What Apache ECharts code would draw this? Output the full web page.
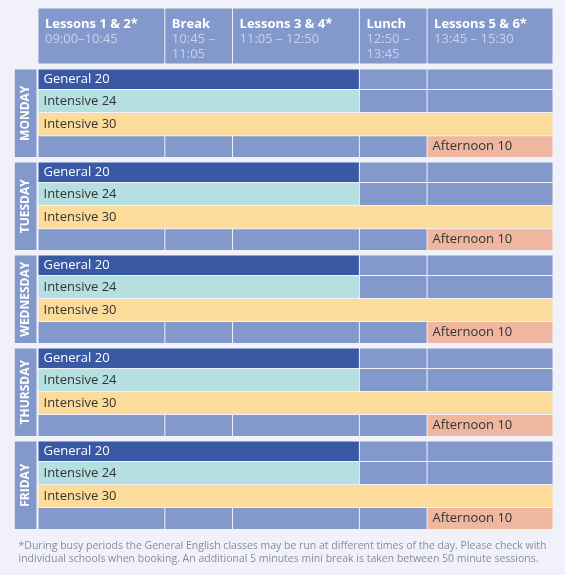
<!DOCTYPE html>
<html><head><meta charset="utf-8">
<script src="https://cdn.jsdelivr.net/npm/echarts@6/dist/echarts.min.js"></script>
<style>html,body{margin:0;padding:0;background:#f0f1f9}#c{width:565px;height:575px}</style>
</head><body><div id="c"></div>
<script>
// ---- data ----
const slots = ['Lessons 1 & 2*', 'Break', 'Lessons 3 & 4*', 'Lunch', 'Lessons 5 & 6*'];
const slotTimes = ['09:00–10:45', '10:45 –\n11:05', '11:05 – 12:50', '12:50 –\n13:45', '13:45 – 15:30'];
const days = ['MONDAY', 'TUESDAY', 'WEDNESDAY', 'THURSDAY', 'FRIDAY'];
const courses = ['General 20', 'Intensive 24', 'Intensive 30', 'Afternoon 10'];
const courseFirstSlot = [0, 0, 0, 4];
const courseLastSlot = [2, 2, 4, 4];
const footnote = '*During busy periods the General English classes may be run at different times of the day. Please check with\nindividual schools when booking. An additional 5 minutes mini break is taken between 50 minute sessions.';

// ---- layout / style ----
const slotWidths = [1.874, 1, 1.874, 1, 1.86];
const rowHeights = [0.93, 1.04, 1.04, 0.99];
const dayGap = 0.2, headerH = 2.53, headerGap = 0.226;
const labelColW = 0.335, labelGap = 0.015;
const courseColors = ['#3a59a5', '#b5dfe0', '#fcdc9a', '#efb6a0'];
const courseTextColors = ['#ffffff', '#333333', '#333333', '#333333'];
const cellBlue = '#8399cc';
const FONT = '"Open Sans", "Noto Sans", sans-serif';

const slotEdges = [0];
slotWidths.forEach(w => slotEdges.push(slotEdges[slotEdges.length - 1] + w));
const rowEdges = [0];
rowHeights.forEach(h => rowEdges.push(rowEdges[rowEdges.length - 1] + h));
const dayH = rowEdges[rowEdges.length - 1];
const totalX = slotEdges[slotEdges.length - 1];
const totalY = days.length * dayH + (days.length - 1) * dayGap;

const cells = [];
slots.forEach((s, i) => cells.push({ kind: 'header', x0: slotEdges[i], x1: slotEdges[i + 1], y0: -headerGap - headerH, y1: -headerGap, fill: cellBlue, title: s, times: slotTimes[i] }));
days.forEach((d, di) => {
  const top = di * (dayH + dayGap);
  cells.push({ kind: 'day', x0: -labelGap - labelColW, x1: -labelGap, y0: top, y1: top + dayH, fill: cellBlue, text: d });
  courses.forEach((c, ci) => {
    const y0 = top + rowEdges[ci], y1 = top + rowEdges[ci + 1];
    const a = courseFirstSlot[ci], b = courseLastSlot[ci];
    for (let s = 0; s < slots.length; s++) {
      if (s === a) {
        cells.push({ kind: 'course', x0: slotEdges[a], x1: slotEdges[b + 1], y0, y1, fill: courseColors[ci], text: c, color: courseTextColors[ci] });
        s = b;
      } else {
        cells.push({ kind: 'empty', x0: slotEdges[s], x1: slotEdges[s + 1], y0, y1, fill: cellBlue });
      }
    }
  });
});

const chart = echarts.init(document.getElementById('c'));
chart.setOption({
  backgroundColor: '#f0f1f9',
  animation: false,
  graphic: [{
    type: 'text', left: 'center', top: 539,
    style: { text: footnote, align: 'center', fontSize: 10.5, fill: '#8a8c9c', lineHeight: 13.5, fontFamily: FONT }
  }],
  grid: { left: 38, right: 12, top: 69, bottom: 45.5 },
  xAxis: { type: 'value', min: 0, max: totalX, show: false },
  yAxis: { type: 'value', min: 0, max: totalY, inverse: true, show: false },
  series: [{
    type: 'custom',
    clip: false,
    data: cells.map(c => [c.x0, c.x1, c.y0, c.y1]),
    renderItem(params, api) {
      const c = cells[params.dataIndex];
      const p0 = api.coord([api.value(0), api.value(2)]);
      const p1 = api.coord([api.value(1), api.value(3)]);
      const x = p0[0] + 0.5, y = p0[1] + 0.5, w = p1[0] - p0[0] - 1, h = p1[1] - p0[1] - 1;
      const children = [{ type: 'rect', shape: { x, y, width: w, height: h }, style: { fill: c.fill } }];
      if (c.kind === 'header') {
        const txt = '{t|' + c.title + '}\n' + c.times.split('\n').map(l => '{s|' + l + '}').join('\n');
        children.push({ type: 'text', style: { x: x + 6.5, y: y + 8.5, text: txt, verticalAlign: 'top', align: 'left',
          rich: { t: { fontFamily: FONT, fontWeight: 'bold', fontSize: 13, fill: '#ffffff', lineHeight: 15 },
                  s: { fontFamily: FONT, fontSize: 13, fill: '#c9d1ee', lineHeight: 15 } } } });
      } else if (c.kind === 'day') {
        children.push({ type: 'text', x: x + w / 2, y: y + h / 2, rotation: Math.PI / 2,
          style: { text: c.text, x: 0, y: 0, align: 'center', verticalAlign: 'middle', fill: '#ffffff', fontFamily: FONT, fontWeight: 'bold', fontSize: 12 } });
      } else if (c.kind === 'course') {
        children.push({ type: 'text', style: { x: x + 5, y: y + h / 2, text: c.text, align: 'left', verticalAlign: 'middle', fill: c.color, fontFamily: FONT, fontSize: 13 } });
      }
      return { type: 'group', children };
    }
  }]
});
</script>
</body></html>
